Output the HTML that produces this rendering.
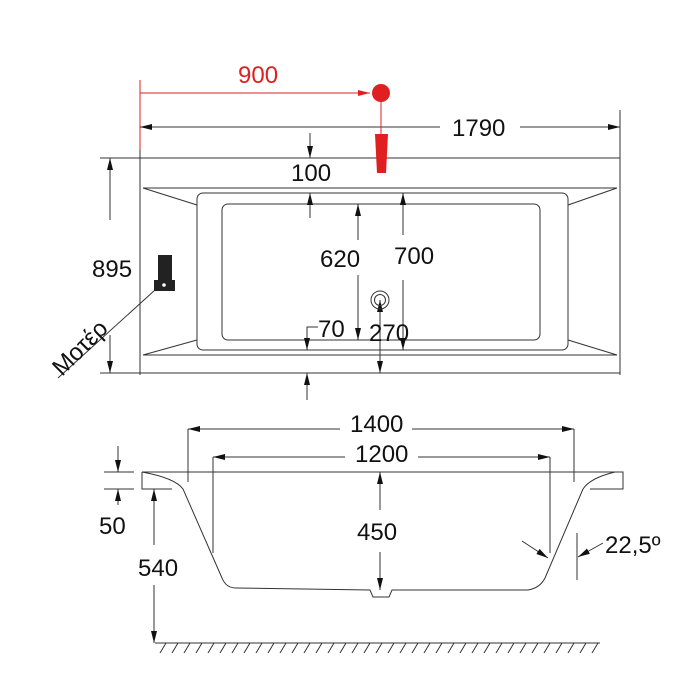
<!DOCTYPE html>
<html><head><style>body{margin:0;background:#fff}svg{display:block}text{font-family:"Liberation Sans",sans-serif;font-size:24px;fill:#111}</style></head><body>
<svg width="700" height="700" viewBox="0 0 700 700" xmlns="http://www.w3.org/2000/svg">
<defs>
<marker id="a" markerWidth="12" markerHeight="8" refX="12" refY="4" orient="auto" markerUnits="userSpaceOnUse"><path d="M0,1 L12,4 L0,7Z" fill="#111"/></marker>
<marker id="r" markerWidth="12" markerHeight="8" refX="12" refY="4" orient="auto" markerUnits="userSpaceOnUse"><path d="M0,1 L12,4 L0,7Z" fill="#e02020"/></marker>
</defs>
<g stroke="#333" stroke-width="1" fill="none">
<line x1="140" y1="80" x2="140" y2="150" stroke="#e02020"/>
<line x1="140" y1="150" x2="140" y2="375"/>
<line x1="620" y1="110" x2="620" y2="375"/>
<line x1="100" y1="158" x2="620" y2="158"/>
<line x1="100" y1="373" x2="620" y2="373"/>
<line x1="143" y1="188" x2="617" y2="188"/>
<line x1="143" y1="355" x2="617" y2="355"/>
<path d="M143,188 L197,205 M617,188 L568,205 M143,355 L197,340 M617,355 L568,340"/>
<rect x="197" y="193" width="371" height="157" rx="6"/>
<rect x="222" y="204" width="318" height="136" rx="6"/>
<line x1="440" y1="127" x2="140" y2="127" marker-end="url(#a)"/>
<line x1="520" y1="127" x2="620" y2="127" marker-end="url(#a)"/>
<line x1="110" y1="220" x2="110" y2="158" marker-end="url(#a)"/>
<line x1="110" y1="335" x2="110" y2="373" marker-end="url(#a)"/>
<line x1="310" y1="133" x2="310" y2="158" marker-end="url(#a)"/>
<line x1="310" y1="218" x2="310" y2="193" marker-end="url(#a)"/>
<line x1="358" y1="240" x2="358" y2="204" marker-end="url(#a)"/>
<line x1="358" y1="275" x2="358" y2="340" marker-end="url(#a)"/>
<line x1="403" y1="235" x2="403" y2="193" marker-end="url(#a)"/>
<line x1="403" y1="280" x2="403" y2="350" marker-end="url(#a)"/>
<line x1="380" y1="335" x2="380" y2="300" marker-end="url(#a)"/>
<line x1="380" y1="335" x2="380" y2="373" marker-end="url(#a)"/>
<path d="M318,327 L307,327 L307,335"/>
<line x1="307" y1="330" x2="307" y2="350" marker-end="url(#a)"/>
<line x1="307" y1="400" x2="307" y2="373" marker-end="url(#a)"/>
<circle cx="380" cy="300" r="9"/><circle cx="380" cy="300" r="5.5"/>
<line x1="155" y1="290" x2="58" y2="378"/>
<path d="M142,472 L623,472 L623,489 L590,489"/>
<path d="M142,472 L142,489 L172,489"/>
<path d="M142,472 Q175,478 183,489 L222,578 Q226,588 236,588 L370,590 L373,597 L389,597 L392,590 L528,590 Q540,588 545,578 L583,489 Q590,478 615,472"/>
<line x1="188" y1="429" x2="188" y2="482"/><line x1="574" y1="429" x2="574" y2="482"/>
<line x1="213" y1="457" x2="213" y2="553"/><line x1="550" y1="457" x2="550" y2="553"/>
<line x1="340" y1="429" x2="188" y2="429" marker-end="url(#a)"/>
<line x1="412" y1="429" x2="574" y2="429" marker-end="url(#a)"/>
<line x1="345" y1="457" x2="213" y2="457" marker-end="url(#a)"/>
<line x1="418" y1="457" x2="550" y2="457" marker-end="url(#a)"/>
<line x1="380" y1="510" x2="380" y2="472" marker-end="url(#a)"/>
<line x1="380" y1="552" x2="380" y2="590" marker-end="url(#a)"/>
<line x1="104" y1="472" x2="134" y2="472"/><line x1="104" y1="489" x2="134" y2="489"/>
<line x1="118" y1="446" x2="118" y2="472" marker-end="url(#a)"/>
<line x1="118" y1="505" x2="118" y2="489" marker-end="url(#a)"/>
<line x1="154" y1="545" x2="154" y2="489" marker-end="url(#a)"/>
<line x1="154" y1="585" x2="154" y2="643" marker-end="url(#a)"/>
<line x1="155" y1="643" x2="600" y2="643"/>
<line x1="522" y1="541" x2="548" y2="558" marker-end="url(#a)"/>
<line x1="577" y1="533" x2="577" y2="580"/>
<line x1="603" y1="543" x2="578" y2="557" marker-end="url(#a)"/>
</g>
<g stroke="#333" stroke-width="1">
<path d="M160,653 l6,-10 M172,653 l6,-10 M184,653 l6,-10 M196,653 l6,-10 M208,653 l6,-10 M220,653 l6,-10 M232,653 l6,-10 M244,653 l6,-10 M256,653 l6,-10 M268,653 l6,-10 M280,653 l6,-10 M292,653 l6,-10 M304,653 l6,-10 M316,653 l6,-10 M328,653 l6,-10 M340,653 l6,-10 M352,653 l6,-10 M364,653 l6,-10 M376,653 l6,-10 M388,653 l6,-10 M400,653 l6,-10 M412,653 l6,-10 M424,653 l6,-10 M436,653 l6,-10 M448,653 l6,-10 M460,653 l6,-10 M472,653 l6,-10 M484,653 l6,-10 M496,653 l6,-10 M508,653 l6,-10 M520,653 l6,-10 M532,653 l6,-10 M544,653 l6,-10 M556,653 l6,-10 M568,653 l6,-10 M580,653 l6,-10 M592,653 l6,-10"/>
</g>
<line x1="140" y1="93" x2="370" y2="93" stroke="#e02020" marker-end="url(#r)"/>
<line x1="381" y1="93" x2="381" y2="135" stroke="#e02020"/>
<circle cx="381" cy="93" r="9" fill="#e02020"/>
<path d="M375,134 L388,134 L386,173 L377,173Z" fill="#e02020"/>
<rect x="158" y="255" width="14" height="27" fill="#222"/>
<rect x="154" y="280" width="21" height="11" fill="#222"/>
<circle cx="164" cy="285" r="1.8" fill="#fff"/>
<text x="238" y="83" style="fill:#e02020">900</text>
<text x="452" y="136">1790</text>
<text x="291" y="181">100</text>
<text x="92" y="277">895</text>
<text x="320" y="267">620</text>
<text x="394" y="264">700</text>
<text x="318" y="337">70</text>
<text x="369" y="341">270</text>
<text transform="translate(62,377) rotate(-45)">Μοτέρ</text>
<text x="350" y="432">1400</text>
<text x="355" y="462">1200</text>
<text x="357" y="540">450</text>
<text x="99" y="534">50</text>
<text x="138" y="576">540</text>
<text x="605" y="553">22,5º</text>
</svg>
</body></html>
